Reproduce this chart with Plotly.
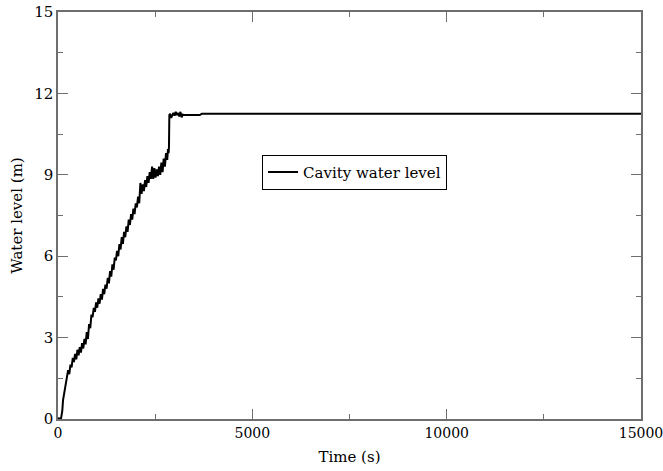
import plotly.graph_objects as go

# Time (s) and cavity water level (m)
time_s = [0, 40, 80, 110, 130, 150, 170, 190, 210, 230, 260, 290, 320, 350, 380,
          410, 440, 470, 500, 530, 560, 590, 620, 650, 680, 710, 740, 770, 800, 830,
          860, 890, 920, 950, 980, 1010, 1040, 1070, 1100, 1130, 1160, 1190, 1220,
          1250, 1280, 1310, 1340, 1370, 1400, 1430, 1460, 1490, 1520, 1550, 1580,
          1610, 1640, 1670, 1700, 1730, 1760, 1790, 1820, 1850, 1880, 1910, 1940,
          1970, 2000, 2030, 2060, 2090, 2120, 2150, 2180, 2210, 2240, 2270, 2300,
          2330, 2360, 2390, 2420, 2450, 2480, 2510, 2540, 2570, 2600, 2630, 2660,
          2690, 2720, 2750, 2780, 2810, 2830, 2845, 2855, 2865, 2885, 2910, 2940,
          2970, 3000, 3030, 3060, 3090, 3120, 3150, 3180, 3210, 3240, 3270, 3300,
          3350, 3400, 3650, 3700, 4000, 6000, 8000, 10000, 12000, 14000, 15000]
water_level_m = [0.05, 0.0, 0.03, 0.3, 0.7, 0.85, 1.0, 1.2, 1.4, 1.55, 1.8, 1.65, 2.0,
                 1.9, 2.25, 2.1, 2.4, 2.2, 2.55, 2.35, 2.65, 2.45, 2.8, 2.6, 2.95, 2.75,
                 3.2, 2.95, 3.5, 3.35, 3.85, 3.75, 4.1, 3.95, 4.3, 4.1, 4.45, 4.25, 4.6,
                 4.4, 4.8, 4.6, 4.95, 4.8, 5.2, 5.0, 5.45, 5.25, 5.7, 5.5, 5.95, 5.85,
                 6.2, 6.0, 6.45, 6.25, 6.7, 6.45, 6.9, 6.7, 7.1, 6.9, 7.35, 7.15, 7.55,
                 7.35, 7.75, 7.55, 7.95, 7.8, 8.2, 7.95, 8.7, 8.3, 8.65, 8.4, 8.8, 8.55,
                 8.95, 8.7, 9.1, 8.85, 9.3, 8.85, 9.25, 8.9, 9.2, 8.95, 9.3, 9.0, 9.45,
                 9.1, 9.6, 9.3, 9.8, 9.55, 9.95, 9.8, 10.0, 11.2, 11.25, 11.1, 11.2,
                 11.28, 11.18, 11.32, 11.2, 11.28, 11.15, 11.32, 11.12, 11.22, 11.2,
                 11.2, 11.2, 11.2, 11.2, 11.2, 11.25, 11.25, 11.25, 11.25, 11.25, 11.25,
                 11.25, 11.25]

x_ticks = [0, 5000, 10000, 15000]
y_ticks = [0, 3, 6, 9, 12, 15]

FONT = "DejaVu Serif"
AXIS_COLOR = "#6e6e6e"

fig = go.Figure()
fig.add_trace(go.Scatter(
    x=time_s, y=water_level_m, mode="lines",
    name="Cavity water level",
    line=dict(color="black", width=2),
))

axis_common = dict(
    showline=True, linecolor=AXIS_COLOR, linewidth=1.5, mirror="ticks",
    ticks="inside", ticklen=10, tickcolor=AXIS_COLOR, tickwidth=1,
    showgrid=False, zeroline=False, automargin=False,
    ticklabeloverflow="allow",
)

fig.update_layout(
    width=663, height=471,
    margin=dict(l=58, r=22, t=12, b=52),
    paper_bgcolor="white", plot_bgcolor="white",
    font=dict(family=FONT, size=15, color="black"),
    showlegend=True,
    legend=dict(
        x=0.35, y=0.649, xanchor="left", yanchor="top",
        bordercolor="black", borderwidth=1, bgcolor="white",
        font=dict(family=FONT, size=15, color="black"),
    ),
    xaxis=dict(
        range=[0, 15000], tickvals=x_ticks, ticktext=[str(v) for v in x_ticks],
        tickfont=dict(family=FONT, size=14, color="black"),
        title=dict(text="Time (s)", font=dict(family=FONT, size=15), standoff=12),
        minor=dict(dtick=2500, ticks="inside", ticklen=5, tickcolor=AXIS_COLOR, tickwidth=1),
        **axis_common,
    ),
    yaxis=dict(
        range=[0, 15], tickvals=y_ticks, ticktext=[str(v) for v in y_ticks],
        tickfont=dict(family=FONT, size=15, color="black"),
        title=dict(text="Water level (m)", font=dict(family=FONT, size=15), standoff=8),
        minor=dict(dtick=1.5, ticks="inside", ticklen=5, tickcolor=AXIS_COLOR, tickwidth=1),
        **axis_common,
    ),
)

fig.write_html("out.html")
